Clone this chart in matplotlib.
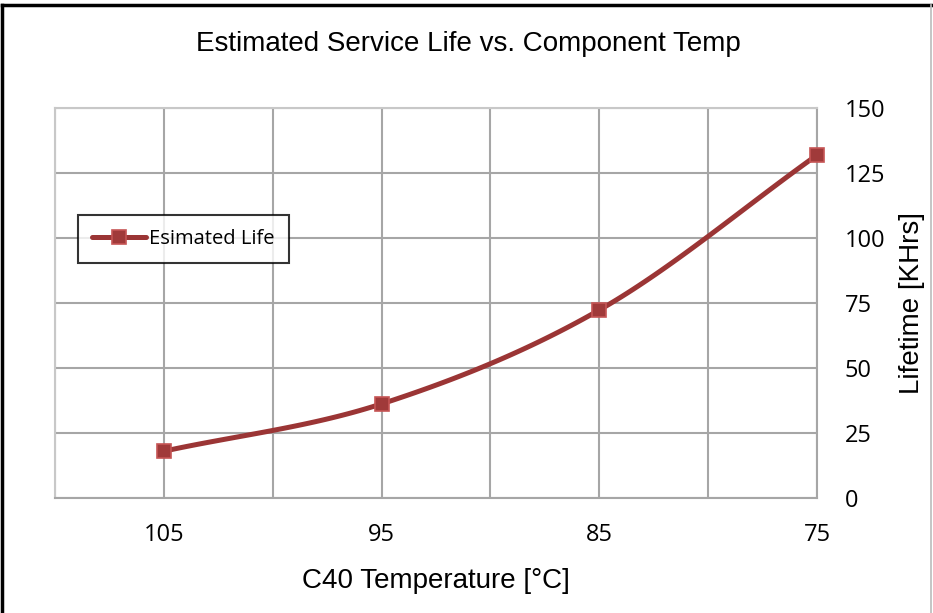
import numpy as np
import matplotlib
matplotlib.use("Agg")
import matplotlib.pyplot as plt
from matplotlib.lines import Line2D

# Data
temps_c = [105, 95, 85, 75]
life_khrs = [18.0, 36.2, 72.3, 131.9]
x_ticks = [105, 95, 85, 75]
y_ticks = [0, 25, 50, 75, 100, 125, 150]
title = "Estimated Service Life vs. Component Temp"
x_label = "C40 Temperature [°C]"
y_label = "Lifetime [KHrs]"
series_name = "Esimated Life"

LINE_COLOR = "#9b3535"
MARKER_FACE = "#a03a3a"
MARKER_EDGE = "#c65555"
GRID_COLOR = "#a6a6a6"


def smooth_curve(xs, ys, n=40):
    """Catmull-Rom style smoothing through every point (spreadsheet 'smoothed line')."""
    xs = np.asarray(xs, float)
    ys = np.asarray(ys, float)
    px = np.concatenate([[2 * xs[0] - xs[1]], xs, [2 * xs[-1] - xs[-2]]])
    py = np.concatenate([[2 * ys[0] - ys[1]], ys, [2 * ys[-1] - ys[-2]]])
    out_x, out_y = [], []
    for i in range(1, len(px) - 2):
        p0 = np.array([px[i - 1], py[i - 1]])
        p1 = np.array([px[i], py[i]])
        p2 = np.array([px[i + 1], py[i + 1]])
        p3 = np.array([px[i + 2], py[i + 2]])
        c1 = p1 + (p2 - p0) / 6.0
        c2 = p2 - (p3 - p1) / 6.0
        t = np.linspace(0, 1, n)[:, None]
        pts = ((1 - t) ** 3) * p1 + 3 * ((1 - t) ** 2) * t * c1 + 3 * (1 - t) * t ** 2 * c2 + t ** 3 * p2
        out_x.extend(pts[:, 0])
        out_y.extend(pts[:, 1])
    return np.array(out_x), np.array(out_y)


fig = plt.figure(figsize=(9.33, 6.13), dpi=100)
ax = fig.add_axes([55 / 933, 1 - 498 / 613, (817 - 55) / 933, (498 - 108) / 613])

ax.set_xlim(110, 75)
ax.set_ylim(0, 150)
ax.set_xticks(x_ticks)
ax.set_xticks(np.arange(75, 111, 5), minor=True)
ax.set_yticks(y_ticks)

ax.grid(True, which="both", axis="x", color=GRID_COLOR, linewidth=1.5)
ax.grid(True, which="major", axis="y", color=GRID_COLOR, linewidth=1.5)
ax.set_axisbelow(True)
for side in ["top", "left"]:
    ax.spines[side].set_color("#c8c8c8")
    ax.spines[side].set_linewidth(1.5)
for side in ["bottom", "right"]:
    ax.spines[side].set_color(GRID_COLOR)
    ax.spines[side].set_linewidth(1.5)

ax.yaxis.tick_right()
ax.yaxis.set_label_position("right")
ax.tick_params(which="both", length=0)
ax.tick_params(axis="y", pad=20, labelsize=17)
ax.tick_params(axis="x", pad=18, labelsize=17)
for lab in ax.get_xticklabels() + ax.get_yticklabels():
    lab.set_fontfamily("Open Sans")

sx, sy = smooth_curve(temps_c, life_khrs)
ax.plot(sx, sy, color=LINE_COLOR, linewidth=3.6, solid_capstyle="round", zorder=3, clip_on=False)
ax.plot(temps_c, life_khrs, linestyle="none", marker="s", markersize=10,
        markerfacecolor=MARKER_FACE, markeredgecolor=MARKER_EDGE, markeredgewidth=1.2,
        zorder=4, clip_on=False)

ax.set_xlabel(x_label, fontsize=20, fontfamily="Liberation Sans", labelpad=15)
ax.set_ylabel(y_label, fontsize=20, fontfamily="Liberation Sans", labelpad=10)

fig.text(468 / 933, 1 - 44 / 613, title, ha="center", va="center",
         fontsize=20, fontfamily="Liberation Sans")

handle = Line2D([], [], color=LINE_COLOR, linewidth=3.6, solid_capstyle="round",
                marker="s", markersize=10, markerfacecolor=MARKER_FACE,
                markeredgecolor=MARKER_EDGE, markeredgewidth=1.2)
leg = fig.legend([handle], [series_name], loc="upper left",
                 bbox_to_anchor=(78 / 933, 1 - 215 / 613),
                 frameon=True, fancybox=False, handlelength=2.7, handletextpad=0.15,
                 borderpad=0.7, borderaxespad=0,
                 prop={"family": "Open Sans", "size": 14.5})
leg.get_frame().set_edgecolor("black")
leg.get_frame().set_linewidth(1.5)

# Outer chart border
fig.add_artist(Line2D([2 / 933, 2 / 933], [0, 1 - 5 / 613], transform=fig.transFigure,
                      color="black", linewidth=2.5))
fig.add_artist(Line2D([2 / 933, 931 / 933], [1 - 5 / 613, 1 - 5 / 613], transform=fig.transFigure,
                      color="black", linewidth=2.5))
fig.add_artist(Line2D([931 / 933, 931 / 933], [0, 1 - 5 / 613], transform=fig.transFigure,
                      color="#bbbbbb", linewidth=1.2))

fig.savefig("out.png", dpi=100, facecolor="white")
